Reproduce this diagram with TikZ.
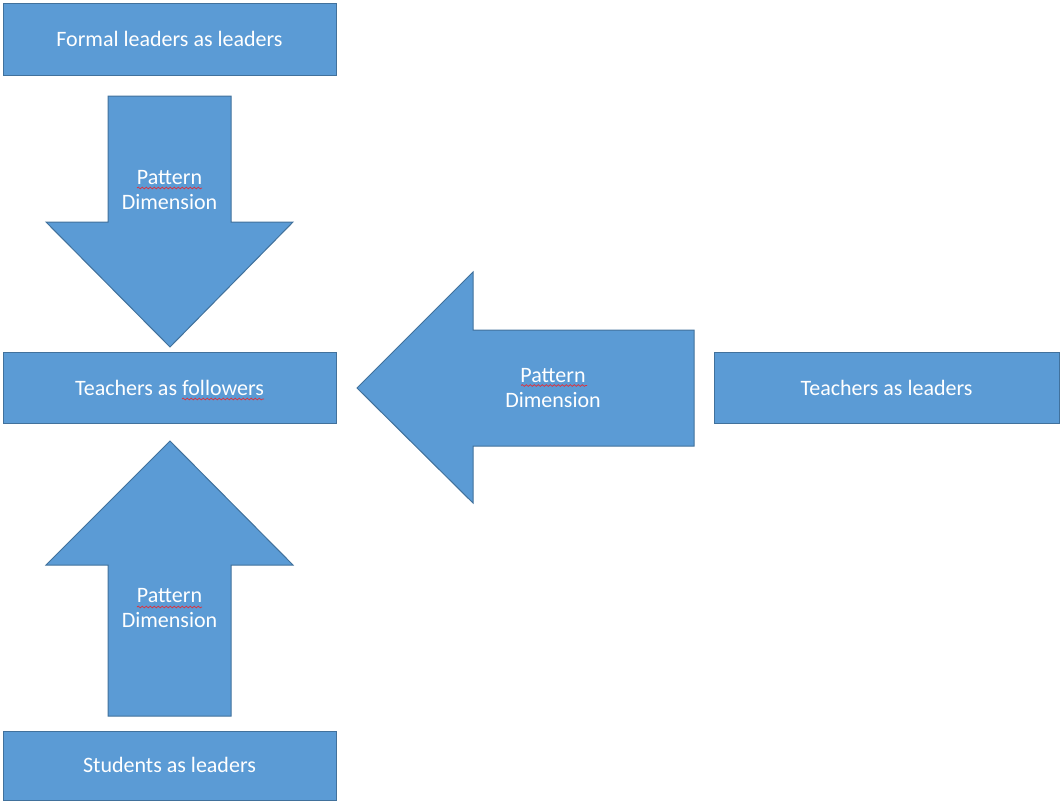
\documentclass[tikz,border=0pt]{standalone}
\usepackage{fontspec}
\setmainfont{Carlito}
\usetikzlibrary{decorations.pathmorphing}
\definecolor{boxfill}{HTML}{5B9BD5}
\definecolor{boxline}{HTML}{41719C}
\definecolor{squig}{HTML}{E0303A}
\begin{document}
\begin{tikzpicture}[x=1pt,y=-1pt,
  box/.style={draw=boxline,fill=boxfill,line width=1pt},
  lbl/.style={text=white,font=\fontsize{22}{25}\selectfont,align=center,inner sep=0pt},
  spell/.style={draw=squig,line width=0.7pt,decorate,decoration={snake,amplitude=0.9pt,segment length=4pt}}]
\useasboundingbox (0,0) rectangle (1062,801);
% boxes
\draw[box] (3,3) rectangle (336,75);
\node[lbl] (formal) at (169.5,39) {Formal leaders as leaders};
\draw[box] (3,352) rectangle (336,423);
\node[lbl] (foll) at (169.5,387.5) {Teachers as followers};
\draw[box] (714,352) rectangle (1059,423);
\node[lbl] (tlead) at (886.5,387.5) {Teachers as leaders};
\draw[box] (3,731) rectangle (336,800);
\node[lbl] (stud) at (169.5,765) {Students as leaders};
% down arrow
\draw[box] (108,96) -- (231,96) -- (231,222) -- (293,222) -- (170,347) -- (46,222) -- (108,222) -- cycle;
\node[lbl] (pd1) at (169.5,190) {Pattern\\Dimension};
% up arrow
\draw[box] (108,716) -- (231,716) -- (231,565) -- (293,565) -- (170,441) -- (46,565) -- (108,565) -- cycle;
\node[lbl] (pd2) at (169.5,608) {Pattern\\Dimension};
% left arrow
\draw[box] (694,330) -- (694,446) -- (473,446) -- (473,503) -- (357,388) -- (473,272) -- (473,330) -- cycle;
\node[lbl] (pd3) at (553,388) {Pattern\\Dimension};
% spell-check squiggles
\draw[spell] (137,188) -- (202,188);
\draw[spell] (137,607) -- (202,607);
\draw[spell] (521,385.5) -- (587,385.5);
\draw[spell] (182,399) -- (264,399);
\end{tikzpicture}
\end{document}
